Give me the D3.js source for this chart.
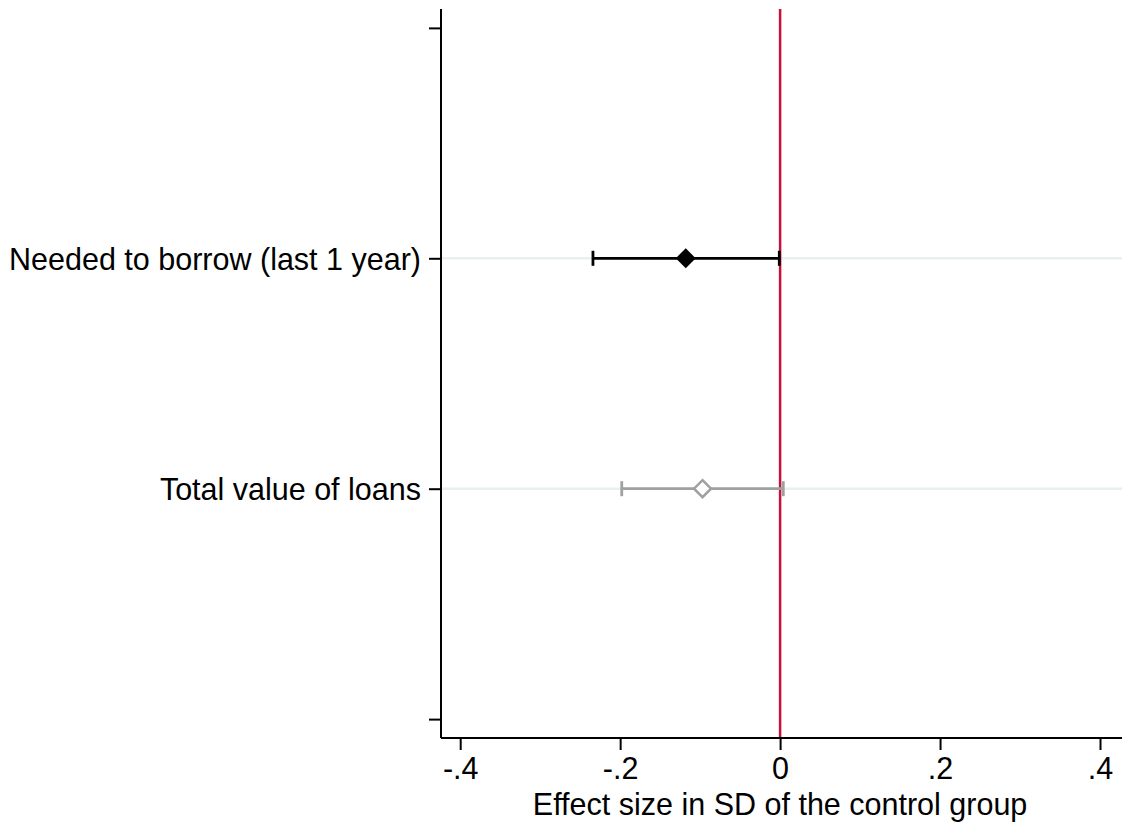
<!DOCTYPE html>
<html>
<head>
<meta charset="utf-8">
<script src="https://cdn.jsdelivr.net/npm/d3@7"></script>
<style>
  body { margin: 0; background: #fff; }
  text { font-family: "Liberation Sans", Arial, Helvetica, sans-serif; fill: #000; }
</style>
</head>
<body>
<div id="chart"></div>
<script>
// outcomes, top to bottom
var labels = ["Needed to borrow (last 1 year)", "Total value of loans"];
var estimates = [-0.118, -0.097];
var ciLow = [-0.234, -0.198];
var ciHigh = [-0.001, 0.004];
var colors = ["#000000", "#a0a0a0"];
var filled = [true, false];
var xTicks = [-0.4, -0.2, 0, 0.2, 0.4];
var xTickLabels = ["-.4", "-.2", "0", ".2", ".4"];

var width = 1122, height = 825;
var plotLeft = 441, plotTop = 9, plotBottom = 738, plotRight = 1122;

var svg = d3.select("#chart")
  .append("svg")
  .attr("width", width).attr("height", height);

var x = d3.scaleLinear().domain([-0.424, 0.4275]).range([plotLeft, plotRight]);
// rows sit at 1 and 2, with empty ticks at 0 and 3
var y = d3.scaleLinear().domain([-0.082, 3.082]).range([plotTop, plotBottom]);

//gridlines at each outcome
svg.selectAll("line.grid")
  .data(labels)
  .enter().append("line")
  .attr("class", "grid")
  .attr("x1", plotLeft).attr("x2", plotRight)
  .attr("y1", function(d, i) { return y(i + 1); })
  .attr("y2", function(d, i) { return y(i + 1); })
  .attr("stroke", "#e8f0f2").attr("stroke-width", 2.5);

//zero line
svg.append("line")
  .attr("x1", x(0)).attr("x2", x(0))
  .attr("y1", plotTop).attr("y2", plotBottom)
  .attr("stroke", "#c8103c").attr("stroke-width", 2.5);

//y axis
var yAxis = d3.axisLeft(y)
  .tickValues([0, 1, 2, 3])
  .tickSize(12).tickPadding(8)
  .tickFormat(function(d) { return (d >= 1 && d <= 2) ? labels[d - 1] : ""; });
var gy = svg.append("g")
  .attr("transform", "translate(" + plotLeft + ",0)")
  .call(yAxis);
gy.select(".domain").attr("d", "M0," + plotTop + "V" + plotBottom).attr("stroke-width", 2);
gy.selectAll(".tick line").attr("stroke-width", 2);
gy.selectAll("text").style("font-size", "30.5px").attr("dy", "0.36em");

//x axis
var xAxis = d3.axisBottom(x)
  .tickValues(xTicks)
  .tickSize(12).tickPadding(7)
  .tickFormat(function(d, i) { return xTickLabels[i]; });
var gx = svg.append("g")
  .attr("transform", "translate(0," + plotBottom + ")")
  .call(xAxis);
gx.select(".domain").attr("d", "M" + plotLeft + ",0H" + plotRight).attr("stroke-width", 2);
gx.selectAll(".tick line").attr("stroke-width", 2);
gx.selectAll("text").style("font-size", "30.5px");

svg.append("text")
  .attr("x", x(0)).attr("y", 815)
  .attr("text-anchor", "middle")
  .style("font-size", "30.5px")
  .text("Effect size in SD of the control group");

//confidence intervals
var rows = svg.selectAll("g.row")
  .data(labels)
  .enter().append("g")
  .attr("class", "row");

rows.append("line")
  .attr("x1", function(d, i) { return x(ciLow[i]); })
  .attr("x2", function(d, i) { return x(ciHigh[i]); })
  .attr("y1", function(d, i) { return y(i + 1); })
  .attr("y2", function(d, i) { return y(i + 1); })
  .attr("stroke", function(d, i) { return colors[i]; })
  .attr("stroke-width", 2.8);

[ciLow, ciHigh].forEach(function(arr) {
  rows.append("line")
    .attr("x1", function(d, i) { return x(arr[i]); })
    .attr("x2", function(d, i) { return x(arr[i]); })
    .attr("y1", function(d, i) { return y(i + 1) - 7.5; })
    .attr("y2", function(d, i) { return y(i + 1) + 7.5; })
    .attr("stroke", function(d, i) { return colors[i]; })
    .attr("stroke-width", 2.8);
});

//point estimates
rows.append("path")
  .attr("d", function(d, i) {
    var r = filled[i] ? 10 : 8.5;
    return "M0," + (-r) + "L" + r + ",0L0," + r + "L" + (-r) + ",0Z";
  })
  .attr("transform", function(d, i) { return "translate(" + x(estimates[i]) + "," + y(i + 1) + ")"; })
  .attr("fill", function(d, i) { return filled[i] ? colors[i] : "#fff"; })
  .attr("stroke", function(d, i) { return colors[i]; })
  .attr("stroke-width", function(d, i) { return filled[i] ? 0 : 2.5; });
</script>
</body>
</html>
